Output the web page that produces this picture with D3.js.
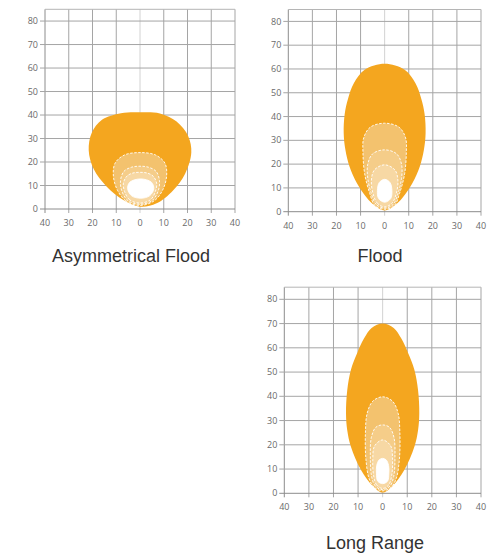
<!DOCTYPE html>
<html>
<head>
<meta charset="utf-8">
<script src="https://cdn.jsdelivr.net/npm/d3@7"></script>
<style>
  html, body { margin: 0; padding: 0; background: #fff; }
  svg { display: block; }
  .tick-label { font-family: "Open Sans", "DejaVu Sans", sans-serif; font-size: 9px; fill: #6a6a6a; }
  .title { font-family: "Liberation Sans", Arial, sans-serif; font-size: 18px; fill: #333; }
</style>
</head>
<body>
<svg id="chart" width="495" height="553"></svg>
<script>
// ticks
const xTicks = [-40, -30, -20, -10, 0, 10, 20, 30, 40];
const yTicks = [0, 10, 20, 30, 40, 50, 60, 70, 80];
const Y_MAX  = 85;

// fill per layer, outer -> inner
const layerColors = ["#F4A61F", "#F3C26E", "#F5CD89", "#F7D8A4", "#FFFFFF"];

// beam contours, [x, y] in metres
const asymOuter = [[0,1],[-7,3.8],[-14,9.5],[-19.5,17],[-21.6,25],[-20.3,32.5],[-16,38],[-8,40.8],[0,41.2],[8.4,40.7],[15.4,37.2],[20.3,31],[21.6,24],[19,15],[14,8],[7,2.4]];
const asymL2    = [[0,1.5],[-6,3.5],[-9.5,8],[-11.2,14],[-10.5,19.5],[-6.5,23],[0,24],[6.5,23],[10.5,19.5],[11.2,14],[9.5,8],[6,3.5]];
const asymL3    = [[0,2],[-5,3.5],[-7.6,7.5],[-8.2,12],[-6.8,16],[-3.5,17.8],[0,18.2],[3.5,17.8],[6.8,16],[8.2,12],[7.6,7.5],[5,3.5]];
const asymL4    = [[0,2.5],[-4.5,4],[-6.5,7.5],[-7,11],[-5.5,14],[-3,15.3],[0,15.6],[3,15.3],[5.5,14],[7,11],[6.5,7.5],[4.5,4]];
const asymCore  = [[0.3,4.6],[-3.5,5.6],[-5.2,8.6],[-4.3,11.4],[0.3,12.8],[4.8,11.4],[5.8,8.6],[4,5.6]];

const floodOuter = [[0,0.5],[-4,2.5],[-7.5,6],[-11.5,12],[-14.6,19],[-16.3,26],[-17,33],[-16.6,41],[-15.2,47.5],[-12.8,54],[-8.3,59.7],[0,62.2],[8.3,59.7],[12.8,54],[15.2,47.5],[16.6,41],[17,33],[16.3,26],[14.6,19],[11.5,12],[7.5,6],[4,2.5]];
const floodL2    = [[0,1],[-4,2.5],[-6.2,7.7],[-8.3,16],[-9,25],[-8.7,31],[-6,35.5],[0,37.2],[6,35.5],[8.7,31],[9,25],[8.3,16],[6.2,7.7],[4,2.5]];
const floodL3    = [[0,1.5],[-3.5,3],[-5.5,7.5],[-7,14],[-7,20],[-5,24.3],[0,26],[5,24.3],[7,20],[7,14],[5.5,7.5],[3.5,3]];
const floodL4    = [[0,2],[-3,3.5],[-4.8,7.5],[-5.5,13],[-4.3,17.5],[0,19.7],[4.3,17.5],[5.5,13],[4.8,7.5],[3,3.5]];
const floodCore  = [[0,4],[-2.5,5.5],[-3,9],[-2.2,12.3],[0,13.6],[2.2,12.3],[3,9],[2.5,5.5]];

const longOuter = [[0,0.3],[-4,3],[-8.8,9.6],[-12.9,19.2],[-14.4,26],[-14.9,33],[-14.4,42.5],[-12.9,51],[-10.3,58],[-7.6,63.8],[-4.5,68.2],[0,70],[4.5,68.2],[7.6,63.8],[10.3,58],[12.9,51],[14.4,42.5],[14.9,33],[14.4,26],[12.9,19.2],[8.8,9.6],[4,3]];
const longL2    = [[0,1],[-3.5,2.5],[-5.5,6],[-6.8,14],[-7,25],[-6.3,33],[-4,38],[0,39.8],[4,38],[6.3,33],[7,25],[6.8,14],[5.5,6],[3.5,2.5]];
const longL3    = [[0,1.5],[-3,3],[-4.5,7],[-5,15],[-4.6,23],[-2.8,27.2],[0,28.2],[2.8,27.2],[4.6,23],[5,15],[4.5,7],[3,3]];
const longL4    = [[0,2],[-2.5,3.5],[-3.7,7.5],[-4,14],[-3.3,19.5],[0,22],[3.3,19.5],[4,14],[3.7,7.5],[2.5,3.5]];
const longCore  = [[0,4],[-2,5],[-2.5,8],[-2.4,11.5],[-1.4,13.8],[0,14.4],[1.4,13.8],[2.4,11.5],[2.5,8],[2,5]];

const titles = ["Asymmetrical Flood", "Flood", "Long Range"];
const layerSets = [
  [asymOuter, asymL2, asymL3, asymL4, asymCore],
  [floodOuter, floodL2, floodL3, floodL4, floodCore],
  [longOuter, longL2, longL3, longL4, longCore]
];

// panel frames in px: left, right, y at 0, y at Y_MAX, title x, title baseline
const panels = [
  { left: 45,    right: 235, bottom: 209,   top: 9.3,   tx: 131, ty: 262 },
  { left: 288.3, right: 481, bottom: 211.7, top: 9.5,   tx: 380, ty: 262 },
  { left: 284.3, right: 481, bottom: 493.3, top: 287.2, tx: 375, ty: 549 }
];

const svg = d3.select("#chart");

panels.forEach((p, i) => {
  const x = d3.scaleLinear().domain([-40, 40]).range([p.left, p.right]);
  const y = d3.scaleLinear().domain([0, Y_MAX]).range([p.bottom, p.top]);
  const g = svg.append("g");

  // grid
  g.selectAll("line.v")
    .data(xTicks)
    .join("line")
      .attr("class", "v")
      .attr("x1", d => x(d)).attr("x2", d => x(d))
      .attr("y1", y(Y_MAX)).attr("y2", y(0) + 4)
      .style("stroke", d => d === 0 ? "#d2d2d2" : (d === -40 ? "#8c8c8c" : "#a5a5a5"))
      .style("stroke-width", 1);

  g.selectAll("line.h")
    .data(yTicks)
    .join("line")
      .attr("class", "h")
      .attr("x1", x(-40) - 5).attr("x2", x(40))
      .attr("y1", d => y(d)).attr("y2", d => y(d))
      .style("stroke", d => d === 0 ? "#8c8c8c" : "#a5a5a5")
      .style("stroke-width", 1);

  // top edge
  g.append("line")
    .attr("x1", x(-40)).attr("x2", x(40))
    .attr("y1", y(Y_MAX)).attr("y2", y(Y_MAX))
    .style("stroke", "#b5b5b5");

  // beam layers
  const line = d3.line()
    .x(d => x(d[0]))
    .y(d => y(d[1]))
    .curve(d3.curveCatmullRomClosed.alpha(0.5));

  g.selectAll("path.beam")
    .data(layerSets[i])
    .join("path")
      .attr("class", "beam")
      .attr("d", line)
      .style("fill", (_, j) => layerColors[j])
      .style("stroke", (_, j) => j === 0 ? "none" : "#fff")
      .style("stroke-width", 0.9)
      .style("stroke-dasharray", (_, j) => j === 0 || j === 4 ? null : "2.5,1.5");

  // tick labels
  g.selectAll("text.xl")
    .data(xTicks)
    .join("text")
      .attr("class", "tick-label xl")
      .attr("x", d => x(d))
      .attr("y", y(0) + 17)
      .attr("text-anchor", "middle")
      .text(d => Math.abs(d));

  g.selectAll("text.yl")
    .data(yTicks)
    .join("text")
      .attr("class", "tick-label yl")
      .attr("x", x(-40) - 7)
      .attr("y", d => y(d))
      .attr("dy", "0.35em")
      .attr("text-anchor", "end")
      .text(d => d);

  // title
  svg.append("text")
    .attr("class", "title")
    .attr("x", p.tx)
    .attr("y", p.ty)
    .attr("text-anchor", "middle")
    .text(titles[i]);
});
</script>
</body>
</html>
